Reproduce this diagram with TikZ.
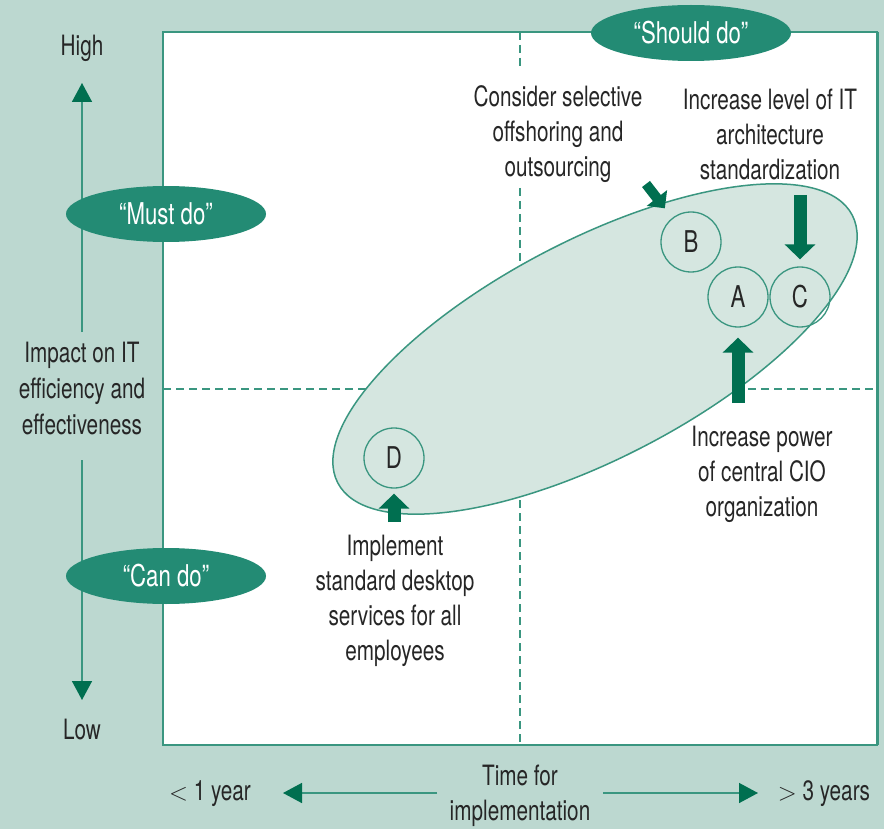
\documentclass[tikz,border=0pt]{standalone}
\usepackage{fontspec}
\setmainfont{TeX Gyre Heros}[FakeStretch=0.74]
\usetikzlibrary{arrows.meta,shapes.geometric}
\definecolor{bgcol}{HTML}{BCD8D0}
\definecolor{ellcol}{HTML}{D5E6E0}
\definecolor{tagcol}{HTML}{238B74}
\definecolor{arrowcol}{HTML}{006F50}
\definecolor{linecol}{HTML}{3A9680}
\definecolor{txtcol}{HTML}{262626}
\begin{document}
\begin{tikzpicture}[x=1pt,y=-1pt,
  txt/.style={font=\fontsize{28}{35}\selectfont, text=txtcol, align=center, inner sep=0pt},
  tag/.style={ellipse, fill=tagcol, text=white, minimum width=200pt, minimum height=56pt, inner sep=0pt, font=\fontsize{30}{32}\selectfont},
  letter/.style={circle, draw=linecol, line width=1.3pt, minimum size=60pt, inner sep=0pt, font=\fontsize{30}{32}\selectfont, text=txtcol},
  blockarrow/.style={draw=arrowcol, line width=13pt, -{Triangle[width=30pt,length=15pt,color=arrowcol]}},
  smallblock/.style={draw=arrowcol, line width=10pt, -{Triangle[width=25pt,length=13pt,color=arrowcol]}},
  axisarrow/.style={draw=linecol, line width=1.5pt, -{Triangle[width=20pt,length=19pt,color=arrowcol]}},
  quadline/.style={draw=linecol, line width=1.5pt, dash pattern=on 8pt off 5pt},
  bigell/.style={draw=linecol, line width=1.5pt, fill=ellcol}]
\useasboundingbox (0,0) rectangle (884,829);
\fill[bgcol] (0,0) rectangle (884,829);
% plot box
\draw[linecol, line width=1.5pt, fill=white] (163,32) rectangle (877,745);
\draw[linecol, line width=3pt] (877,32) -- (877,745);
% quadrant lines
\draw[quadline] (520,32) -- (520,70);
\draw[quadline] (520,188) -- (520,745);
\draw[quadline] (163,389) -- (877,389);
% big ellipse
\draw[bigell] (595,349) ellipse [x radius=290, y radius=109, rotate=27.5];
% circles
\node[letter] (B) at (691,242) {B};
\node[letter] (A) at (738,297) {A};
\node[letter] (C) at (800,297) {C};
\node[letter] (D) at (394,458) {D};
% texts
\node[txt] (consider) at (558,134) {Consider selective\\offshoring and\\outsourcing};
\node[txt] (stdz) at (770,134) {Increase level of IT\\architecture\\standardization};
\node[txt] (cio) at (762,474) {Increase power\\of central CIO\\organization};
\node[txt] (desk) at (395,601) {Implement\\standard desktop\\services for all\\employees};
% block arrows
\coordinate (cTail) at (800,195);
\coordinate (aTail) at (738,403);
\coordinate (dTail) at (394,522);
\coordinate (bTail) at (646,184);
\draw[blockarrow, shorten >=7pt] (cTail) -- (C);
\draw[blockarrow, shorten >=10pt] (aTail) -- (A);
\draw[blockarrow, shorten >=5pt] (dTail) -- (D);
\draw[smallblock, shorten >=12pt] (bTail) -- (B);
% vertical axis
\node[txt] (hi) at (82,48) {High};
\node[txt] (lo) at (82,729) {Low};
\node[txt, font=\fontsize{28}{36}\selectfont] (impact) at (82,389) {Impact on IT\\efficiency and\\effectiveness};
\coordinate (vUp0) at (82,332);
\coordinate (vUp1) at (82,83);
\coordinate (vDn0) at (82,460);
\coordinate (vDn1) at (82,700);
\draw[axisarrow] (vUp0) -- (vUp1);
\draw[axisarrow] (vDn0) -- (vDn1);
% horizontal axis
\node[txt] (time) at (520,796) {Time for\\implementation};
\node[txt] (short) at (210,794) {$<$ 1 year};
\node[txt] (long) at (824,794) {$>$ 3 years};
\coordinate (hL0) at (437,793);
\coordinate (hL1) at (283,793);
\coordinate (hR0) at (603,793);
\coordinate (hR1) at (758,793);
\draw[axisarrow] (hL0) -- (hL1);
\draw[axisarrow] (hR0) -- (hR1);
% tags
\node[tag] (must) at (166,214) {“Must do”};
\node[tag] (can) at (166,576) {“Can do”};
\node[tag] (should) at (691,33) {“Should do”};
\end{tikzpicture}
\end{document}
